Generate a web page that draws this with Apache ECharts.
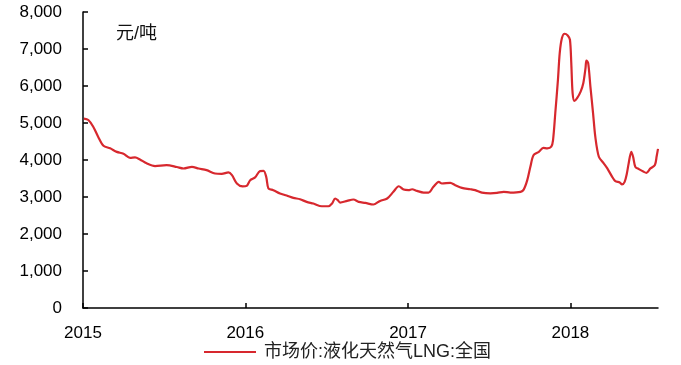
<!DOCTYPE html>
<html>
<head>
<meta charset="utf-8">
<script src="https://cdn.jsdelivr.net/npm/echarts@6/dist/echarts.min.js"></script>
<style>
  html, body { margin: 0; padding: 0; background: #fff; }
  #chart { width: 681px; height: 365px; }
</style>
</head>
<body>
<div id="chart"></div>
<script>
// LNG national market price, yuan per tonne
const seriesName = '市场价:液化天然气LNG:全国';
const unitLabel = '元/吨';
const yearTicks = ['2015', '2016', '2017', '2018'];
const axisStart = '2015-01-01';
const axisEnd = '2018-07-17';

const dates = [
  '2015-01-03','2015-01-13','2015-01-24','2015-02-04','2015-02-16','2015-03-03','2015-03-18','2015-04-02',
  '2015-04-17','2015-04-28','2015-05-09','2015-05-24','2015-06-12','2015-07-08','2015-07-31','2015-08-15',
  '2015-09-03','2015-09-18','2015-10-06','2015-10-25','2015-11-09','2015-11-24','2015-12-02','2015-12-13',
  '2015-12-26','2016-01-04','2016-01-12','2016-01-23','2016-02-03','2016-02-11','2016-02-17','2016-02-22',
  '2016-03-04','2016-03-19','2016-04-03','2016-04-18','2016-05-03','2016-05-18','2016-06-02','2016-06-21',
  '2016-07-06','2016-07-14','2016-07-21','2016-07-27','2016-08-01','2016-08-17','2016-08-31','2016-09-12',
  '2016-09-27','2016-10-15','2016-10-30','2016-11-15','2016-11-29','2016-12-11','2016-12-22','2017-01-02',
  '2017-01-10','2017-01-21','2017-02-05','2017-02-16','2017-02-27','2017-03-11','2017-03-18','2017-04-06',
  '2017-04-17','2017-05-02','2017-05-21','2017-06-01','2017-06-16','2017-07-05','2017-07-20','2017-08-04',
  '2017-08-19','2017-09-11','2017-09-18','2017-09-26','2017-10-03','2017-10-10','2017-10-22','2017-11-01',
  '2017-11-10','2017-11-19','2017-11-23','2017-11-28','2017-12-04','2017-12-08','2017-12-13','2017-12-19',
  '2017-12-26','2017-12-31','2018-01-03','2018-01-06','2018-01-10','2018-01-16','2018-01-24','2018-01-30',
  '2018-02-04','2018-02-06','2018-02-10','2018-02-15','2018-02-21','2018-02-26','2018-03-06','2018-03-17',
  '2018-03-25','2018-04-05','2018-04-12','2018-04-22','2018-04-27','2018-05-03','2018-05-08','2018-05-12',
  '2018-05-18','2018-05-22','2018-05-27','2018-06-04','2018-06-15','2018-06-21','2018-06-30','2018-07-10',
  '2018-07-14','2018-07-17'
];

const prices = [
  5120, 5080, 4900, 4630, 4385, 4315, 4220, 4170,
  4060, 4070, 4015, 3910, 3835, 3860, 3810, 3770,
  3815, 3770, 3725, 3635, 3625, 3665, 3590, 3365,
  3285, 3300, 3455, 3530, 3700, 3705, 3545, 3230,
  3185, 3095, 3040, 2975, 2940, 2867, 2823, 2750,
  2750, 2823, 2960, 2913, 2850, 2895, 2932, 2867,
  2840, 2797, 2895, 2960, 3140, 3290, 3200, 3185,
  3210, 3165, 3120, 3120, 3275, 3410, 3365, 3380,
  3320, 3245, 3210, 3185, 3120, 3100, 3110, 3140,
  3120, 3140, 3200, 3455, 3815, 4130, 4220, 4330,
  4315, 4360, 4540, 5263, 6165, 6890, 7295, 7412,
  7366, 7250, 6618, 5805, 5596, 5670, 5850, 6075,
  6482, 6688, 6618, 5985, 5263, 4630, 4087, 3908,
  3772, 3545, 3428, 3393, 3339, 3410, 3637, 3908,
  4222, 4087, 3815, 3753, 3680, 3653, 3772, 3862,
  4100, 4300
];

function toTime(s) {
  const p = s.split('-').map(Number);
  return Date.UTC(p[0], (p[1] || 1) - 1, p[2] || 1);
}

const points = dates.map((d, i) => [toTime(d), prices[i]]);
const yearValues = yearTicks.map(y => toTime(y + '-01-01'));
const font = '"Liberation Sans", Arial, "Noto Sans CJK SC", sans-serif';
const ink = '#000';
const red = '#d7282e';

const chart = echarts.init(document.getElementById('chart'), null, { renderer: 'canvas' });
chart.setOption({
  animation: false,
  backgroundColor: '#fff',
  textStyle: { fontFamily: font },
  grid: { left: 83, right: 23, top: 12, bottom: 57, containLabel: false },
  graphic: [{
    type: 'text',
    left: 116,
    top: 25,
    style: { text: unitLabel, font: '18px ' + font, fill: '#111' }
  }],
  legend: {
    left: 199,
    top: 338,
    padding: 5,
    itemWidth: 52,
    itemHeight: 10,
    textStyle: { fontSize: 18, color: '#222', fontFamily: font, padding: [0, 0, 0, 3] },
    data: [{ name: seriesName, icon: 'path://M0,0 L100,0 L100,4 L0,4 Z' }]
  },
  xAxis: {
    type: 'value',
    min: toTime(axisStart),
    max: toTime(axisEnd),
    splitLine: { show: false },
    axisLine: { show: true, lineStyle: { color: ink, width: 1.5 } },
    axisTick: {
      show: true, inside: true, length: 5,
      customValues: yearValues,
      lineStyle: { color: ink, width: 1.5 }
    },
    axisLabel: {
      customValues: yearValues,
      margin: 17,
      fontSize: 17,
      color: ink,
      fontFamily: font,
      formatter: v => String(new Date(v).getUTCFullYear())
    }
  },
  yAxis: {
    type: 'value',
    min: 0,
    max: 8000,
    interval: 1000,
    splitLine: { show: false },
    axisLine: { show: true, lineStyle: { color: ink, width: 1.5 } },
    axisTick: { show: true, inside: true, length: 5, lineStyle: { color: ink, width: 1.5 } },
    axisLabel: {
      margin: 21,
      fontSize: 17,
      color: ink,
      fontFamily: font,
      padding: [3, 0, 0, 0],
      formatter: v => echarts.format.addCommas(v)
    }
  },
  series: [{
    name: seriesName,
    type: 'line',
    data: points,
    symbol: 'none',
    smooth: 0.3,
    lineStyle: { color: red, width: 2.2 },
    itemStyle: { color: red }
  }]
});
</script>
</body>
</html>
